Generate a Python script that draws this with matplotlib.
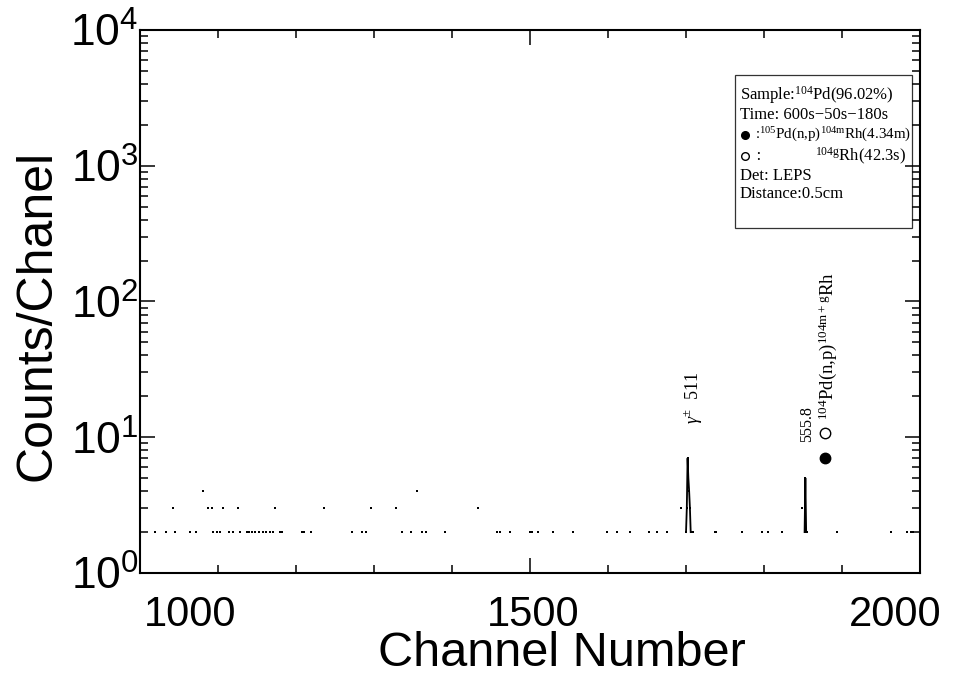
import numpy as np
import matplotlib
matplotlib.use("Agg")
import matplotlib.pyplot as plt
from matplotlib.patches import Rectangle
from matplotlib.ticker import LogLocator, MultipleLocator, NullFormatter
from matplotlib.transforms import ScaledTranslation

plt.rcParams["font.family"] = ["Liberation Sans", "DejaVu Sans"]
plt.rcParams["mathtext.fontset"] = "custom"
plt.rcParams["mathtext.rm"] = "Liberation Serif"
plt.rcParams["mathtext.it"] = "Liberation Serif:italic"

# spectrum: channel numbers and counts (channels without counts are omitted)
channels = [
    1019, 1033, 1042, 1045, 1064, 1072, 1081, 1087, 1092, 1094, 1099, 1103,
    1106, 1114, 1119, 1126, 1128, 1137, 1140, 1144, 1147, 1153, 1158, 1162,
    1167, 1171, 1173, 1179, 1182, 1208, 1210, 1219, 1236, 1272, 1285, 1290,
    1296, 1328, 1336, 1347, 1355, 1362, 1367, 1391, 1433, 1458, 1462, 1474,
    1500, 1503, 1510, 1529, 1555, 1599, 1612, 1628, 1653, 1663, 1676, 1694,
    1700, 1701, 1702, 1703, 1704, 1705, 1706, 1709, 1737, 1738, 1739, 1772,
    1797, 1805, 1823, 1849, 1852, 1853, 1854, 1855, 1894, 1963, 1983, 1989,
    1990, 1991,
]
counts = [
    2, 2, 3, 2, 2, 2, 4, 3, 3, 2, 2, 2,
    3, 2, 2, 3, 2, 2, 2, 2, 2, 2, 2, 2,
    2, 2, 3, 2, 2, 2, 2, 2, 3, 2, 2, 2,
    3, 3, 2, 2, 4, 2, 2, 2, 3, 2, 2, 2,
    2, 2, 2, 2, 2, 2, 2, 2, 2, 2, 2, 3,
    2, 3, 7, 5, 4, 3, 2, 2, 2, 2, 2, 2,
    2, 2, 2, 3, 2, 5, 2, 2, 2, 2, 2, 2,
    2, 2,
]

# symbols marking the 104Pd(n,p) lines
filled_mark = (1878, 7.0)
open_mark = (1878, 10.8)

fig = plt.figure(figsize=(9.7, 6.74), dpi=100)
ax = fig.add_axes([0.1443, 0.1499, 0.8042, 0.8056])

ch = np.array(channels)
ct = np.array(counts)
breaks = np.where(np.diff(ch) > 1)[0] + 1
for seg_x, seg_y in zip(np.split(ch, breaks), np.split(ct, breaks)):
    ax.plot(seg_x, seg_y, color="black", lw=1.3, marker="s", ms=2.0,
            mec="black", mew=0)

ax.plot(*filled_mark, "o", color="black", ms=7.5)
ax.plot(*open_mark, "o", mfc="white", mec="black", mew=1.0, ms=7.5)

ax.set_yscale("log")
ax.set_xlim(1000, 2000)
ax.set_ylim(1, 1e4)

ax.set_xticks([1000, 1500, 2000])
ax.xaxis.set_minor_locator(MultipleLocator(100))
ax.yaxis.set_major_locator(LogLocator(base=10, numticks=10))
ax.yaxis.set_minor_locator(LogLocator(base=10, subs=np.arange(2, 10), numticks=20))
ax.yaxis.set_minor_formatter(NullFormatter())

ax.tick_params(which="both", direction="in", top=True, right=True, width=1.1)
ax.tick_params(which="major", length=11)
ax.tick_params(axis="x", which="major", pad=16, labelsize=30)
ax.tick_params(axis="y", which="major", pad=1, labelsize=32)
ax.tick_params(which="minor", length=6)
for sp in ax.spines.values():
    sp.set_linewidth(1.5)

# nudge the x tick labels sideways
for lab, dx in zip(ax.get_xticklabels(), [50, 3, -25]):
    lab.set_transform(lab.get_transform()
                      + ScaledTranslation(dx / 100, 0, fig.dpi_scale_trans))

ax.set_xlabel("Channel Number", fontsize=35)
ax.set_ylabel("Counts/Chanel", fontsize=36)
ax.xaxis.set_label_coords(0.541, -0.106)
ax.yaxis.set_label_coords(-0.102, 0.475)

serif = ["Liberation Serif", "DejaVu Serif"]
ax.text(1709, 12.5, r"$\gamma^{\pm}$  511", rotation=90, ha="center",
        va="bottom", fontsize=13, family=serif)
ax.text(1855, 9.3, "555.8", rotation=90, ha="center", va="bottom",
        fontsize=11.5, family=serif)
ax.text(1882, 13.5, r"$^{104}$Pd(n,p)$^{104\mathrm{m+g}}$Rh", rotation=90,
        ha="center", va="bottom", fontsize=13.5, family=serif)

# info box
ax.add_patch(Rectangle((0.763, 0.635), 0.227, 0.282, transform=ax.transAxes,
                       fill=False, ec="#333333", lw=0.9))
box_lines = [
    (0.880, r"Sample:$^{104}$Pd(96.02%)", 12),
    (0.843, "Time: 600s\u221250s\u2212180s", 12),
    (0.806, r"    :$^{105}$Pd(n,p)$^{104\mathrm{m}}$Rh(4.34m)", 10.8),
    (0.768, "    :", 12),
    (0.731, "Det: LEPS", 12),
    (0.698, "Distance:0.5cm", 12),
]
for y, s, size in box_lines:
    ax.text(0.769, y, s, transform=ax.transAxes, fontsize=size, family=serif,
            va="center", ha="left")
ax.text(0.982, 0.768, r"$^{104\mathrm{g}}$Rh(42.3s)", transform=ax.transAxes,
        fontsize=12, family=serif, va="center", ha="right")
ax.plot(0.776, 0.806, "o", color="black", ms=5.5, transform=ax.transAxes)
ax.plot(0.776, 0.768, "o", mfc="white", mec="black", mew=1.0, ms=5.5,
        transform=ax.transAxes)

fig.savefig("out.png", dpi=100)
